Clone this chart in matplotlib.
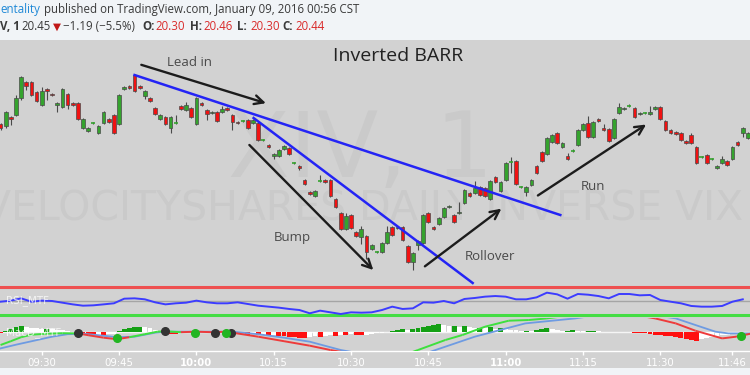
import matplotlib
matplotlib.use('Agg')
import matplotlib.pyplot as plt
import numpy as np
from matplotlib.collections import LineCollection

# ---- 1 minute candles (XIV), bar index 0 = 09:22
opens = [20.50, 20.48, 20.57, 20.59, 20.76, 20.92, 20.92, 20.82, 20.69, 20.85,
         20.80, 20.69, 20.67, 20.80, 20.71, 20.71, 20.46, 20.43, 20.51, 20.41,
         20.51, 20.55, 20.59, 20.50, 20.85, 20.88, 20.99, 20.88, 20.78, 20.76,
         20.66, 20.55, 20.57, 20.46, 20.51, 20.68, 20.64, 20.66, 20.50, 20.71,
         20.64, 20.61, 20.62, 20.62, 20.66, 20.59, 20.52, 20.53, 20.54, 20.51,
         20.51, 20.34, 20.29, 20.18, 20.18, 20.25, 20.26, 20.11, 20.08, 19.94,
         19.82, 19.78, 19.93, 19.94, 19.94, 19.75, 19.61, 19.45, 19.59, 19.42,
         19.37, 19.38, 19.25, 19.22, 19.22, 19.31, 19.47, 19.46, 19.47, 19.28,
         19.12, 19.29, 19.31, 19.61, 19.47, 19.50, 19.57, 19.67, 19.59, 19.61,
         19.71, 19.81, 19.81, 19.87, 19.86, 19.75, 19.97, 19.83, 19.94, 20.12,
         20.13, 19.87, 19.82, 19.89, 20.08, 20.22, 20.20, 20.32, 20.41, 20.27,
         20.18, 20.23, 20.29, 20.44, 20.51, 20.37, 20.55, 20.46, 20.45, 20.36,
         20.61, 20.65, 20.68, 20.66, 20.60, 20.61, 20.60, 20.65, 20.67, 20.53,
         20.44, 20.42, 20.41, 20.33, 20.39, 20.27, 20.17, 20.19, 20.15, 20.06,
         20.11, 20.13, 20.15, 20.32, 20.41, 20.36]
highs = [20.51, 20.63, 20.58, 20.79, 20.98, 20.93, 20.93, 20.83, 20.87, 20.86,
         20.81, 20.72, 20.86, 20.81, 20.72, 20.72, 20.56, 20.47, 20.52, 20.49,
         20.63, 20.56, 20.60, 20.80, 20.88, 20.89, 21.00, 20.89, 20.84, 20.77,
         20.67, 20.60, 20.58, 20.58, 20.59, 20.69, 20.72, 20.67, 20.77, 20.72,
         20.65, 20.63, 20.63, 20.68, 20.67, 20.60, 20.53, 20.54, 20.55, 20.55,
         20.52, 20.35, 20.30, 20.21, 20.25, 20.29, 20.27, 20.12, 20.09, 19.95,
         19.83, 19.84, 19.99, 19.95, 19.95, 19.76, 19.62, 19.61, 19.60, 19.43,
         19.48, 19.39, 19.30, 19.23, 19.32, 19.48, 19.48, 19.48, 19.48, 19.29,
         19.22, 19.34, 19.60, 19.62, 19.48, 19.57, 19.67, 19.69, 19.60, 19.72,
         19.85, 19.82, 19.93, 19.88, 19.87, 19.94, 19.98, 19.93, 20.12, 20.17,
         20.14, 19.88, 19.88, 19.95, 20.09, 20.23, 20.37, 20.40, 20.42, 20.32,
         20.21, 20.25, 20.45, 20.51, 20.58, 20.53, 20.56, 20.50, 20.46, 20.56,
         20.71, 20.67, 20.70, 20.67, 20.62, 20.62, 20.68, 20.68, 20.68, 20.54,
         20.45, 20.43, 20.42, 20.34, 20.41, 20.28, 20.18, 20.20, 20.16, 20.09,
         20.18, 20.14, 20.28, 20.33, 20.47, 20.42]
lows = [20.44, 20.46, 20.49, 20.58, 20.74, 20.84, 20.78, 20.72, 20.68, 20.74,
        20.78, 20.62, 20.66, 20.65, 20.68, 20.54, 20.45, 20.42, 20.50, 20.40,
        20.50, 20.51, 20.40, 20.49, 20.84, 20.85, 20.82, 20.85, 20.75, 20.72,
        20.59, 20.54, 20.49, 20.41, 20.50, 20.64, 20.63, 20.56, 20.49, 20.68,
        20.54, 20.60, 20.52, 20.61, 20.63, 20.44, 20.50, 20.52, 20.45, 20.50,
        20.33, 20.33, 20.26, 20.15, 20.17, 20.24, 20.19, 20.10, 20.04, 19.89,
        19.79, 19.77, 19.92, 19.91, 19.77, 19.66, 19.44, 19.44, 19.45, 19.37,
        19.30, 19.15, 19.24, 19.21, 19.21, 19.30, 19.38, 19.45, 19.33, 19.11,
        19.04, 19.24, 19.30, 19.51, 19.44, 19.49, 19.56, 19.66, 19.51, 19.60,
        19.70, 19.77, 19.80, 19.78, 19.77, 19.74, 19.91, 19.82, 19.93, 20.01,
        19.89, 19.86, 19.78, 19.88, 20.00, 20.12, 20.19, 20.31, 20.30, 20.26,
        20.14, 20.22, 20.28, 20.43, 20.36, 20.36, 20.52, 20.43, 20.32, 20.35,
        20.60, 20.64, 20.67, 20.56, 20.59, 20.60, 20.59, 20.64, 20.54, 20.43,
        20.40, 20.39, 20.33, 20.30, 20.30, 20.10, 20.16, 20.10, 20.14, 20.05,
        20.10, 20.08, 20.14, 20.28, 20.37, 20.35]
closes = [20.46, 20.62, 20.55, 20.76, 20.97, 20.88, 20.79, 20.73, 20.83, 20.83,
          20.79, 20.71, 20.85, 20.69, 20.69, 20.55, 20.55, 20.46, 20.51, 20.48,
          20.62, 20.52, 20.41, 20.79, 20.87, 20.86, 20.83, 20.86, 20.83, 20.73,
          20.60, 20.59, 20.50, 20.57, 20.51, 20.65, 20.69, 20.57, 20.76, 20.69,
          20.60, 20.62, 20.53, 20.65, 20.64, 20.52, 20.51, 20.53, 20.46, 20.54,
          20.34, 20.34, 20.27, 20.20, 20.24, 20.28, 20.20, 20.11, 20.06, 19.90,
          19.80, 19.83, 19.93, 19.92, 19.78, 19.67, 19.45, 19.58, 19.46, 19.38,
          19.45, 19.22, 19.29, 19.22, 19.31, 19.42, 19.39, 19.47, 19.34, 19.12,
          19.21, 19.33, 19.59, 19.52, 19.45, 19.56, 19.66, 19.68, 19.52, 19.62,
          19.84, 19.78, 19.86, 19.79, 19.78, 19.93, 19.92, 19.92, 20.11, 20.12,
          19.90, 19.87, 19.87, 19.94, 20.01, 20.13, 20.36, 20.39, 20.31, 20.31,
          20.15, 20.23, 20.44, 20.50, 20.37, 20.52, 20.53, 20.44, 20.33, 20.55,
          20.67, 20.66, 20.68, 20.57, 20.61, 20.61, 20.62, 20.67, 20.55, 20.44,
          20.41, 20.40, 20.34, 20.31, 20.31, 20.11, 20.17, 20.11, 20.15, 20.08,
          20.15, 20.09, 20.27, 20.29, 20.46, 20.41]

time_ticks = [8, 23, 38, 53, 68, 83, 98, 113, 128, 142]
time_labels = ['09:30', '09:45', '10:00', '10:15', '10:30', '10:45', '11:00', '11:15', '11:30', '11:46']

# ---- RSI (every second bar)
rsi = [49.0, 50.5, 53.8, 49.0, 50.5, 50.0, 47.6, 45.2, 43.3, 43.8,
       45.2, 46.7, 53.3, 53.8, 52.4, 48.1, 45.2, 46.7, 47.6, 50.5,
       48.1, 46.7, 46.7, 48.1, 45.7, 43.3, 41.9, 40.5, 38.6, 37.1,
       32.4, 36.2, 33.8, 31.4, 33.8, 33.3, 33.8, 37.1, 41.9, 38.6,
       39.5, 48.1, 47.6, 50.0, 46.7, 52.9, 54.3, 56.2, 57.1, 56.2,
       52.4, 52.4, 55.2, 61.9, 59.5, 53.3, 60.0, 59.0, 57.1, 53.8,
       60.0, 60.0, 58.1, 58.6, 51.4, 49.0, 46.7, 42.9, 41.9, 41.9,
       42.9, 49.0, 52.4]

# ---- MACD
macd_x = [0, 2, 4, 6, 9, 12, 15, 17, 20, 22.6, 25, 28, 30.4, 32, 35, 38, 41, 44, 45,
          50, 55, 60, 64, 68, 72, 76, 79, 81, 86.3, 89.6, 94, 98.6, 102.5, 106, 110,
          115, 120, 124, 127, 131, 134.8, 140, 142.7, 145.5]
macd_v = [-1.33, -0.95, -0.55, -0.3, -0.2, -0.15, -0.17, -0.35, -0.6, -0.75, -0.55,
          -0.25, 0.0, 0.05, -0.05, 0.0, -0.05, 0.0, -0.1, -0.5, -0.95, -1.4, -1.83,
          -2.2, -2.5, -2.5, -2.2, -1.83, -0.83, -0.33, 0.5, 1.1, 1.17, 1.33, 1.6,
          1.8, 1.8, 1.6, 1.33, 0.83, 0.1, -0.67, -0.5, -0.2]
signal_x = [0, 3, 6.5, 10, 13, 16, 19, 22.6, 26, 30, 32, 40, 45, 50, 55, 60, 66, 70,
            75, 80, 84.4, 92, 101.8, 111.5, 115, 120, 125, 131, 134.8, 138.7, 141.2, 145.5]
signal_v = [-1.67, -1.3, -0.9, -0.5, -0.25, -0.2, -0.35, -0.55, -0.5, -0.1, 0.0, 0.0,
            0.0, -0.25, -0.6, -1.0, -1.83, -2.2, -2.5, -2.6, -1.83, -0.5, 0.83, 1.33,
            1.6, 1.8, 1.8, 1.33, 0.67, 0.0, -0.17, -0.17]
hist = [-0.1, 0.1, 0.3, 0.5, 0.6, 0.5, 0.4, 0.35, 0.3, 0.3,
        0.25, 0.2, 0.15, 0.1, 0.0, -0.1, -0.2, -0.3, -0.35, -0.3,
        -0.3, -0.25, -0.2, 0.1, 0.3, 0.4, 0.45, 0.5, 0.45, 0.35,
        0.2, 0.05, -0.1, -0.2, -0.2, -0.15, -0.1, 0.0, 0.1, 0.1,
        0.05, 0.0, 0.05, 0.05, 0.0, -0.1, -0.2, -0.15, -0.3, -0.25,
        -0.35, -0.3, -0.4, -0.35, -0.4, -0.45, -0.5, -0.55, -0.6, -0.6,
        -0.5, -0.45, -0.5, -0.4, -0.35, -0.4, -0.3, -0.35, -0.25, -0.3,
        -0.35, -0.3, -0.25, -0.15, -0.1, 0.0, 0.1, 0.2, 0.25, 0.2,
        0.25, 0.4, 0.5, 0.6, 0.7, 0.75, 0.7, 0.6, 0.6, 0.5,
        0.55, 0.45, 0.4, 0.4, 0.35, 0.45, 0.3, 0.4, 0.3, 0.2,
        0.15, 0.1, 0.1, 0.05, 0.2, 0.3, 0.35, 0.3, 0.2, 0.1,
        0.1, 0.15, 0.1, 0.05, 0.05, 0.1, 0.05, 0.0, 0.0, 0.0,
        -0.05, 0.0, -0.05, -0.1, -0.1, -0.15, -0.2, -0.3, -0.35, -0.4,
        -0.45, -0.5, -0.6, -0.7, -0.8, -0.9, -0.7, -0.6, -0.5, -0.4,
        -0.35, -0.3, -0.2, -0.1, -0.05, 0.0]
cross_dn_x = [15, 31.9, 41.7, 44.7]
cross_dn_v = [-0.17, 0.07, -0.17, -0.17]
cross_up_x = [22.6, 37.8, 43.8, 143.6]
cross_up_v = [-0.6, -0.17, -0.17, -0.43]

# ---- drawings on the chart (bar index, price)
trend1_x, trend1_y = [26.0, 108.6], [20.99, 19.59]
trend2_x, trend2_y = [49.1, 91.6], [20.56, 18.91]
arrows = {
    'Lead in': ((26.8, 21.10), (52.0, 20.70), (36.7, 21.11)),
    'Bump': ((47.9, 20.31), (72.7, 19.02), (56.6, 19.36)),
    'Rollover': ((81.9, 19.06), (97.6, 19.67), (94.9, 19.18)),
    'Run': ((103.8, 19.77), (125.7, 20.51), (115.0, 19.87)),
}

W, H = 750.0, 375.0
pane_bg = '#d2d2d2'
up_col, dn_col = '#35a32e', '#f01212'
edge_col = '#4a4a4a'
xl = (-0.1, 145.4)

fig = plt.figure(figsize=(7.5, 3.75), dpi=100, facecolor='#f1f4f7')


def pane(top, bottom):
    a = fig.add_axes([0, 1 - bottom / H, 1, (bottom - top) / H])
    a.set_facecolor(pane_bg)
    for s in a.spines.values():
        s.set_visible(False)
    a.set_xticks([])
    a.set_yticks([])
    a.set_xlim(*xl)
    return a


# label strip under the panes (drawn behind the axes)
fig.patches.append(plt.Rectangle((0, 1 - 368 / H), 1, 18 / H, transform=fig.transFigure,
                                 facecolor=pane_bg, edgecolor='none', zorder=-5))

# ---------------- main price pane
ax = pane(40, 286)
ax.set_ylim(18.88, 21.34)

ax.text(69.8, 20.22, 'XIV, 1', fontsize=65, color='#cacaca', ha='center', va='center',
        family='DejaVu Sans', zorder=0)
ax.text(70.3, 19.64, 'VELOCITYSHARES DAILY INVERSE VIX', fontsize=29.5, color='#cacaca',
        ha='center', va='center', family='DejaVu Sans', zorder=0)

x = np.arange(len(opens))
o, h, l, c = map(np.array, (opens, highs, lows, closes))
ax.vlines(x, l, h, color=edge_col, lw=0.8, zorder=2)
up = c >= o
body_lo = np.minimum(o, c)
body_h = np.abs(c - o)
doji = body_h < 0.005
cols = np.where(up, up_col, dn_col)
ax.bar(x[~doji], body_h[~doji], bottom=body_lo[~doji], width=0.72,
       color=cols[~doji], edgecolor=edge_col, linewidth=0.5, zorder=3)
ax.hlines(o[doji], x[doji] - 0.4, x[doji] + 0.4, color=up_col, lw=1.2, zorder=3)

ax.plot(trend1_x, trend1_y, color='#2424f5', lw=1.8, zorder=4)
ax.plot(trend2_x, trend2_y, color='#2424f5', lw=1.8, zorder=4)

for name, (start, end, lab) in arrows.items():
    ax.annotate('', xy=end, xytext=start,
                arrowprops=dict(arrowstyle='->', color='#1c1c1c', lw=1.7, mutation_scale=16),
                zorder=5)
    ax.text(lab[0], lab[1], name, fontsize=9.5, color='#4a4a4a', ha='center', va='center',
            family='Open Sans', zorder=5)

ax.text(77.2, 21.18, 'Inverted BARR', fontsize=14, color='#222222', ha='center',
        va='center', family='Open Sans', zorder=5)

# ---------------- RSI pane
ax_rsi = pane(285, 318)
ax_rsi.set_ylim(25.7, 72.86)
ax_rsi.axhline(70, color='#ee5050', lw=2.2)
ax_rsi.axhline(50, color='#a5a5a5', lw=1)
ax_rsi.axhline(30, color='#44dd44', lw=2.2)
ax_rsi.plot(np.arange(0, 146, 2), rsi, color='#3c3cff', lw=1.4)
ax_rsi.text(1.0, 50, 'RSI_MTF', fontsize=7.5, color='white', alpha=0.75, va='center',
            family='DejaVu Sans')

# ---------------- MACD pane
ax_m = pane(318, 351)
ax_m.set_ylim(-1.93, 1.37)
hv = np.array(hist)
prev = np.concatenate([[hv[0]], hv[:-1]])
hcol = np.where(hv >= 0, np.where(hv >= prev, '#14a014', '#ffffff'),
                np.where(hv <= prev, '#ff1010', '#ffffff'))
ax_m.bar(np.arange(len(hv)), hv, width=0.95, color=hcol, zorder=2)
ax_m.axhline(0, color='white', lw=1, alpha=0.8, zorder=1)
ax_m.plot(signal_x, signal_v, color='#6e9be2', lw=1.3, zorder=3)
mx, mv = np.array(macd_x), np.array(macd_v)
sig_at = np.interp(mx, signal_x, signal_v)
segs = [[(mx[k], mv[k]), (mx[k + 1], mv[k + 1])] for k in range(len(mx) - 1)]
seg_cols = ['#3ee03e' if (mv[k] + mv[k + 1]) >= (sig_at[k] + sig_at[k + 1]) else '#ee3b3b'
            for k in range(len(mx) - 1)]
ax_m.add_collection(LineCollection(segs, colors=seg_cols, linewidths=1.4, zorder=3))
ax_m.plot(cross_dn_x, cross_dn_v, 'o', color='#333333', ms=5.5, zorder=4)
ax_m.plot(cross_up_x, cross_up_v, 'o', color='#22b522', ms=5.5, zorder=4)
ax_m.text(1.0, -0.05, 'MacD_MTF', fontsize=7.5, color='white', alpha=0.75, va='center',
          family='DejaVu Sans', zorder=5)

ax_m.spines['bottom'].set_visible(True)
ax_m.spines['bottom'].set_color('white')
ax_m.spines['bottom'].set_linewidth(1)
ax_m.set_xticks(time_ticks)
ax_m.set_xticklabels(time_labels)
ax_m.tick_params(axis='x', colors='white', length=3, width=1, pad=2, labelsize=7.3)
for lbl in ax_m.get_xticklabels():
    if lbl.get_text().endswith(':00'):
        lbl.set_fontweight('bold')

# ---------------- header
def ftxt(px, py, s, **kw):
    kw.setdefault('fontsize', 8.3)
    kw.setdefault('family', 'Open Sans')
    kw.setdefault('color', '#3a3a3a')
    fig.text(px / W, 1 - py / H, s, va='center', ha='left', **kw)


ftxt(0, 10, 'entality', color='#1e88d6')
ftxt(44, 10, 'published on TradingView.com, January 09, 2016 00:56 CST')
red = '#d92b2b'
ftxt(0, 27, 'V, 1', weight='bold')
ftxt(21, 27, '20.45')
ftxt(53, 27, '\u25bc', color='#c01818', family='DejaVu Sans', fontsize=7.5)
ftxt(63, 27, '\u22121.19 (\u22125.5%)')
for px, lab, val in [(142, 'O:', '20.30'), (190, 'H:', '20.46'), (237, 'L:', '20.30'),
                     (282, 'C:', '20.44')]:
    ftxt(px, 27, lab, weight='bold')
    ftxt(px + 13, 27, val, color=red)

fig.savefig('out.png', dpi=100, facecolor=fig.get_facecolor())
